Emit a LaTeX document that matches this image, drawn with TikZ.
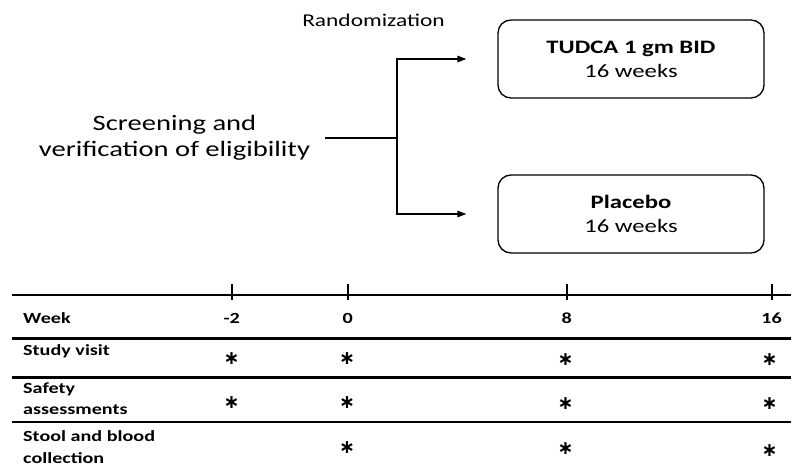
\documentclass[tikz,border=0pt]{standalone}
\usepackage{fontspec}
\setmainfont{Carlito}[FakeStretch=1.3]
\newfontfamily\starfont{DejaVu Sans}
\usetikzlibrary{arrows.meta}
\begin{document}
\begin{tikzpicture}[x=1pt,y=-1pt,
  txt/.style={inner sep=0pt, align=center},
  arm/.style={draw, rounded corners=13pt, line width=1.3pt, minimum width=266pt, minimum height=78pt, align=center, inner sep=0pt, font=\fontsize{19}{24}\selectfont},
  conn/.style={line width=1.5pt},
  rowline/.style={line width=2.4pt},
  tickmark/.style={line width=2.4pt},
  lab/.style={anchor=base west, inner sep=0pt, align=left, font=\bfseries\fontsize{15.5}{21.5}\selectfont},
  num/.style={anchor=base, inner sep=0pt, font=\bfseries\fontsize{15.5}{21.5}\selectfont},
  star/.style={anchor=base, inner sep=0pt, font=\starfont\bfseries\fontsize{19}{19}\selectfont}
]
\useasboundingbox (0,0) rectangle (793,466);

% upper part
\node[txt, anchor=base, font=\fontsize{18}{22}\selectfont] (rand) at (373.5,26.7) {Randomization};
\node[txt, anchor=base, font=\fontsize{22}{26}\selectfont] (scr) at (174.5,156.5) {Screening and\\verification of eligibility};
\node[arm] (tudca) at (631,59) {\textbf{TUDCA 1 gm BID}\\16 weeks};
\node[arm] (plac) at (631,214) {\textbf{Placebo}\\16 weeks};

\coordinate (start) at (325,138);
\coordinate (split) at (397,138);
\draw[conn] (start) -- (split);
\draw[conn, -{Triangle[length=9pt,width=6.5pt]}, shorten >=31pt] (split) |- (tudca.west);
\draw[conn, -{Triangle[length=9pt,width=6.5pt]}, shorten >=31pt] (split) |- (plac.west);

% table
\foreach \yy in {295,338.3,377.3,421.7}
  \draw[rowline] (11.7,\yy) -- (790.7,\yy);
\foreach \xx in {231.7,347.7,566.7,771.7}
  \draw[tickmark] (\xx,284) -- (\xx,300);

\node[lab] (week) at (23,323) {Week};
\node[lab] (visit) at (23,355) {Study visit};
\node[lab] (safety) at (23,414.5) {Safety\\assessments};
\node[lab] (stool) at (23,463.3) {Stool and blood\\collection};

\node[num] (wm2) at (231.7,323) {-2};
\node[num] (w0) at (347.7,323) {0};
\node[num] (w8) at (566.7,323) {8};
\node[num] (w16) at (771.7,323) {16};

\node[star] (s1a) at (231.7,364) {∗};
\node[star] (s1b) at (347,364) {∗};
\node[star] (s1c) at (565.7,365.5) {∗};
\node[star] (s1d) at (769.5,365.5) {∗};
\node[star] (s2a) at (231.7,408) {∗};
\node[star] (s2b) at (347,408) {∗};
\node[star] (s2c) at (565.7,409.3) {∗};
\node[star] (s2d) at (769.5,409.3) {∗};
\node[star] (s3b) at (347,453) {∗};
\node[star] (s3c) at (565.7,454.6) {∗};
\node[star] (s3d) at (769.5,456.3) {∗};
\end{tikzpicture}
\end{document}
